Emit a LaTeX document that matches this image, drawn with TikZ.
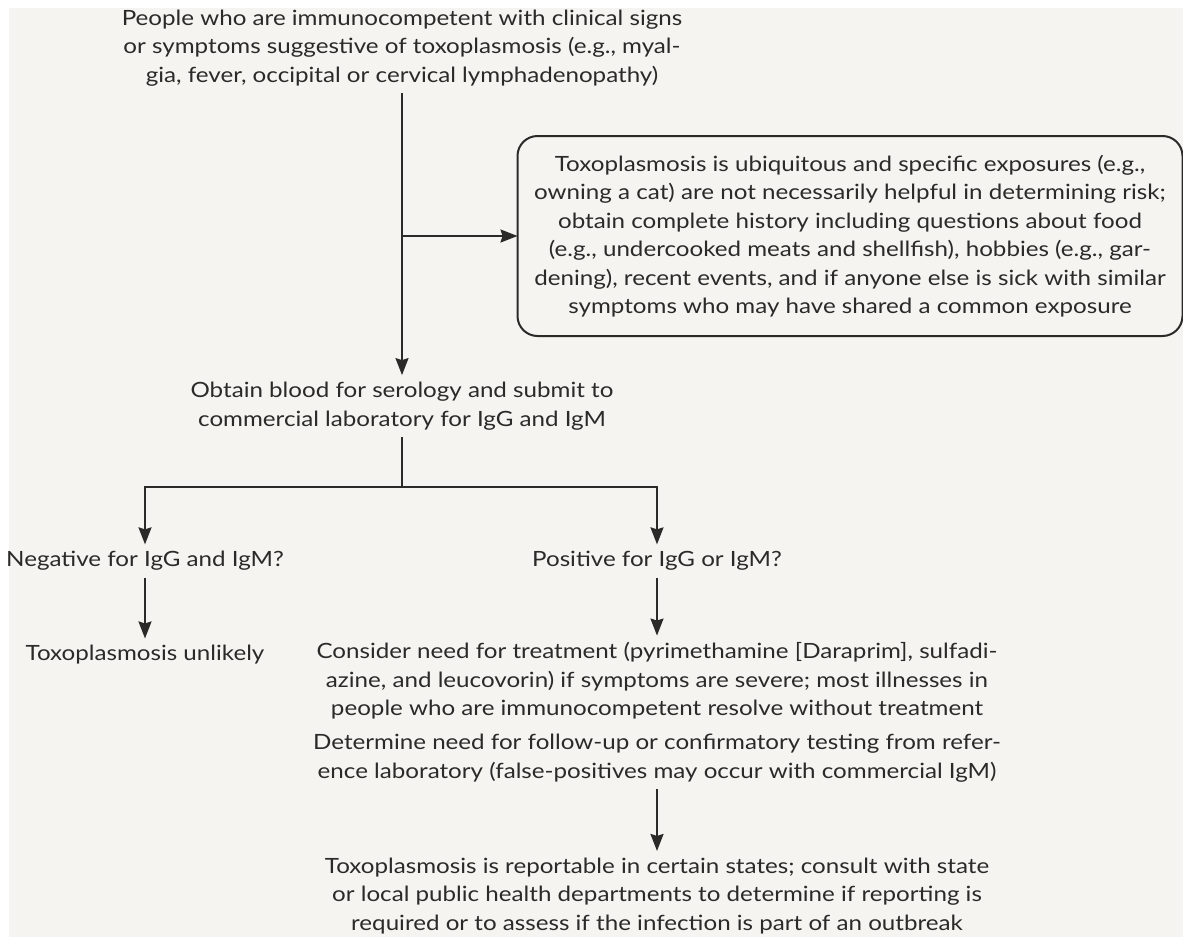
\documentclass[tikz,border=0pt]{standalone}
\usepackage{fontspec}
\setmainfont{Lato}[FakeStretch=1.15]
\usetikzlibrary{arrows.meta, positioning}
\definecolor{bgpaper}{HTML}{F5F4F0}
\definecolor{inkgray}{HTML}{2B2A29}
\tikzset{
  txt/.style={
    align=center, text=inkgray, inner sep=0pt, outer sep=7pt,
    font=\fontsize{21}{28.5}\selectfont
  },
  notebox/.style={
    txt, draw=inkgray, line width=2pt, rounded corners=20pt,
    minimum width=665pt, minimum height=200pt, outer sep=0pt
  },
  arrow/.style={-{Stealth[length=17pt, width=13pt, inset=2pt]},
    line width=2pt, draw=inkgray},
  link/.style={line width=2pt, draw=inkgray}
}

\begin{document}
\begin{tikzpicture}[x=1pt, y=-1pt]
  \useasboundingbox (0,0) rectangle (1183,937);
  \fill[bgpaper] (9,8) rectangle (1183,937);

  \node[txt] (top) at (402,48)
    {People who are immunocompetent with clinical signs\\
     or symptoms suggestive of toxoplasmosis (e.g., myal-\\
     gia, fever, occipital or cervical lymphadenopathy)};
  \node[notebox] (note) at (850,236)
    {Toxoplasmosis is ubiquitous and specific exposures (e.g.,\\
     owning a cat) are not necessarily helpful in determining risk;\\
     obtain complete history including questions about food\\
     (e.g., undercooked meats and shellfish), hobbies (e.g., gar-\\
     dening), recent events, and if anyone else is sick with similar\\
     symptoms who may have shared a common exposure};
  \node[txt] (blood) at (402,406)
    {Obtain blood for serology and submit to\\
     commercial laboratory for IgG and IgM};
  \node[txt] (neg) at (145,561) {Negative for IgG and IgM?};
  \node[txt] (unl) at (145,655) {Toxoplasmosis unlikely};
  \node[txt] (pos) at (657,561) {Positive for IgG or IgM?};
  \node[txt] (treat) at (657,681)
    {Consider need for treatment (pyrimethamine [Daraprim], sulfadi-\\
     azine, and leucovorin) if symptoms are severe; most illnesses in\\
     people who are immunocompetent resolve without treatment};
  \node[txt, below=1pt of treat] (confirm)
    {Determine need for follow-up or confirmatory testing from refer-\\
     ence laboratory (false-positives may occur with commercial IgM)};
  \node[txt] (report) at (657,896)
    {Toxoplasmosis is reportable in certain states; consult with state\\
     or local public health departments to determine if reporting is\\
     required or to assess if the infection is part of an outbreak};

  % connectors
  \coordinate (split) at (top.south |- note.west);
  \coordinate (fork) at (blood.south |- 0,487);
  \draw[arrow] (top.south) -- (blood.north);
  \draw[arrow] (split) -- (note.west);
  \draw[link] (blood.south) -- (fork);
  \draw[arrow] (fork) -| (neg.north);
  \draw[arrow] (fork) -| (pos.north);
  \draw[arrow] (neg) -- (unl);
  \draw[arrow] (pos) -- (treat);
  \draw[arrow] (confirm) -- (report);
\end{tikzpicture}
\end{document}
